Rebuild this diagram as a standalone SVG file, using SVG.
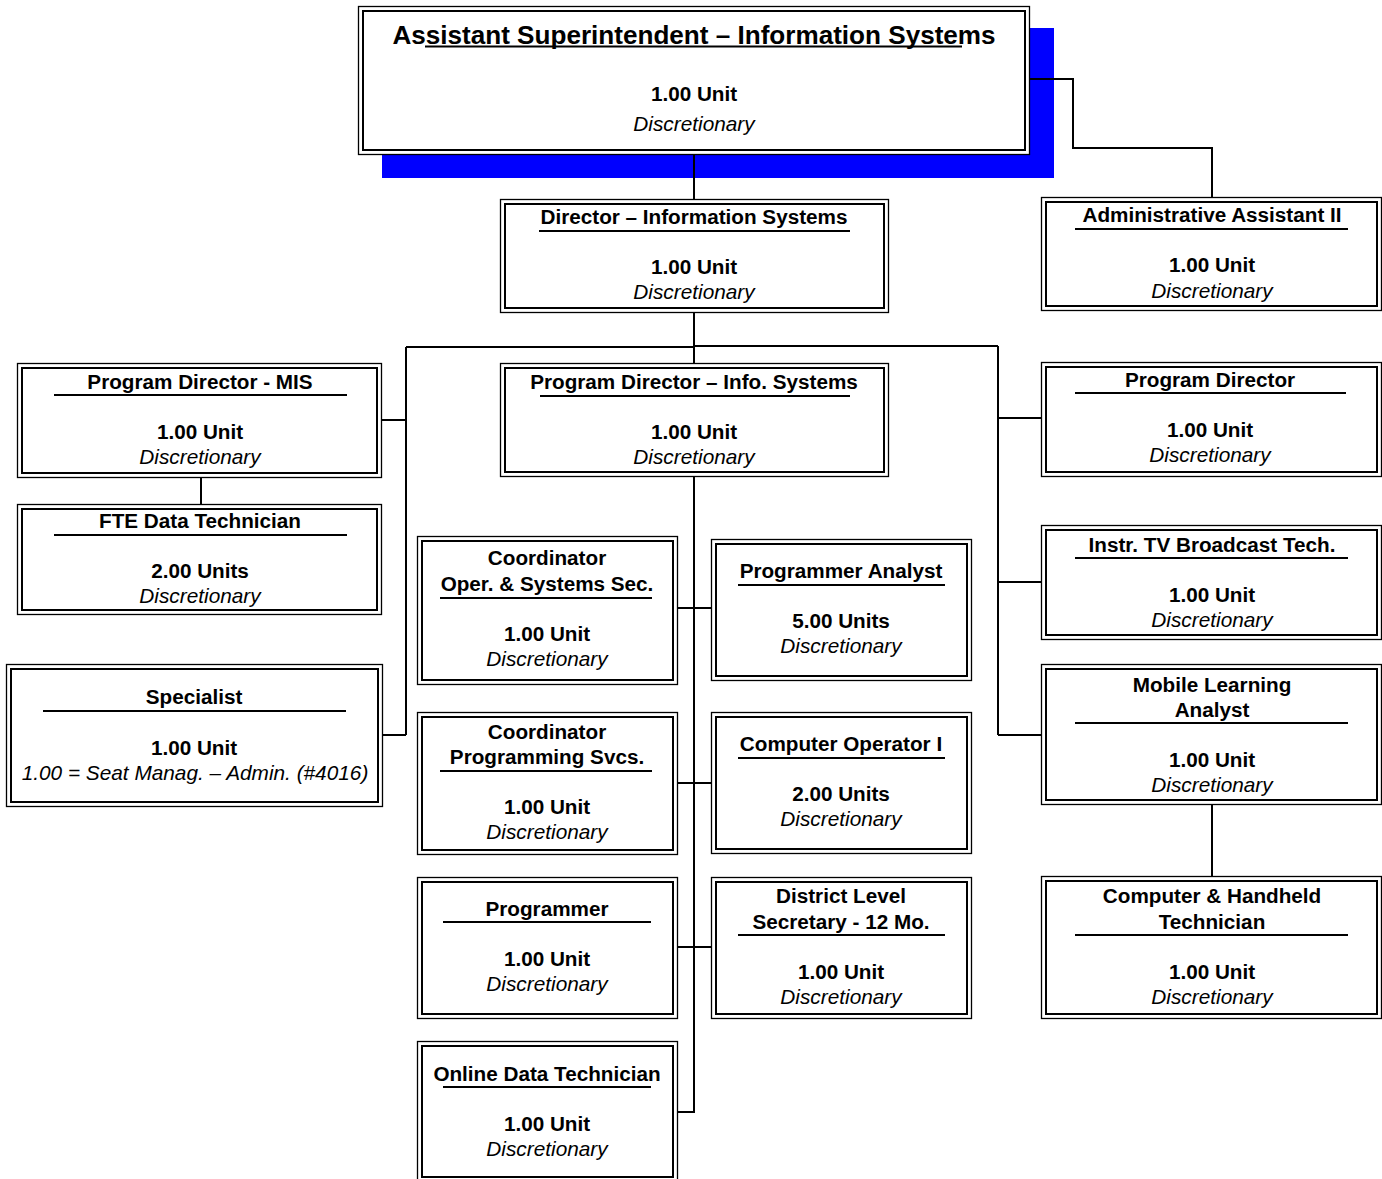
<svg xmlns="http://www.w3.org/2000/svg" width="1382" height="1179" viewBox="0 0 1382 1179">
<style>
.o{fill:#fff;stroke:#000;stroke-width:1.3}
.i{fill:none;stroke:#000;stroke-width:2}
.t{font-family:"Liberation Sans",Arial,sans-serif;font-size:20.7px;font-weight:bold;text-anchor:middle;fill:#000}
.u{font-family:"Liberation Sans",Arial,sans-serif;font-size:20.7px;font-weight:bold;text-anchor:middle;fill:#000}
.d{font-family:"Liberation Sans",Arial,sans-serif;font-size:20.8px;font-style:italic;text-anchor:middle;fill:#000}
.ul{stroke:#000;stroke-width:1.8}
.c{fill:none;stroke:#000;stroke-width:2}
</style>
<rect x="382" y="28" width="672" height="150" fill="#0000FF"/>
<g id="connectors">
<path class="c" d="M694 154V199"/>
<path class="c" d="M1029 79H1073V148H1212V197"/>
<path class="c" d="M694 312V364"/>
<path class="c" d="M406 347H694"/>
<path class="c" d="M694 346H998"/>
<path class="c" d="M406 347V735M382 420H406M382 735H406"/>
<path class="c" d="M201 477V504"/>
<path class="c" d="M998 346V735M998 418H1041M998 582H1041M998 735H1041"/>
<path class="c" d="M694 476V1112H677"/>
<path class="c" d="M677 608H711M677 783H711M677 947H711"/>
<path class="c" d="M1212 804V876"/>
</g>
<g id="n-asst-super">
<rect class="o" x="358.5" y="6.5" width="671" height="148"/>
<rect class="i" x="363" y="11" width="662" height="139"/>
<text class="t" x="694" y="44" style="font-size:26.1px">Assistant Superintendent – Information Systems</text>
<line class="ul" x1="425" y1="46.5" x2="962" y2="46.5"/>
<text class="u" x="694" y="101">1.00 Unit</text>
<text class="d" x="694" y="131">Discretionary</text>
</g>
<g id="n-director">
<rect class="o" x="500.5" y="199.5" width="388" height="113"/>
<rect class="i" x="505" y="204" width="379" height="104"/>
<text class="t" x="694" y="224">Director – Information Systems</text>
<line class="ul" x1="539" y1="231" x2="850" y2="231"/>
<text class="u" x="694" y="274">1.00 Unit</text>
<text class="d" x="694" y="299">Discretionary</text>
</g>
<g id="n-admin-asst">
<rect class="o" x="1041.5" y="197.5" width="340" height="113"/>
<rect class="i" x="1046" y="202" width="331" height="104"/>
<text class="t" x="1212" y="222">Administrative Assistant II</text>
<line class="ul" x1="1075" y1="229" x2="1348" y2="229"/>
<text class="u" x="1212" y="272">1.00 Unit</text>
<text class="d" x="1212" y="298">Discretionary</text>
</g>
<g id="n-pd-mis">
<rect class="o" x="17.5" y="363.5" width="364" height="114"/>
<rect class="i" x="22" y="368" width="355" height="105"/>
<text class="t" x="200" y="389">Program Director - MIS</text>
<line class="ul" x1="54" y1="395" x2="347" y2="395"/>
<text class="u" x="200" y="439">1.00 Unit</text>
<text class="d" x="200" y="464">Discretionary</text>
</g>
<g id="n-fte">
<rect class="o" x="17.5" y="504.5" width="364" height="110"/>
<rect class="i" x="22" y="509" width="355" height="101"/>
<text class="t" x="200" y="528">FTE Data Technician</text>
<line class="ul" x1="54" y1="535" x2="347" y2="535"/>
<text class="u" x="200" y="578">2.00 Units</text>
<text class="d" x="200" y="603">Discretionary</text>
</g>
<g id="n-specialist">
<rect class="o" x="6.5" y="664.5" width="376" height="142"/>
<rect class="i" x="11" y="669" width="367" height="133"/>
<text class="t" x="194" y="704">Specialist</text>
<line class="ul" x1="43" y1="711" x2="346" y2="711"/>
<text class="u" x="194" y="755">1.00 Unit</text>
<text class="d" x="195" y="780">1.00 = Seat Manag. – Admin. (#4016)</text>
</g>
<g id="n-pd-info">
<rect class="o" x="500.5" y="363.5" width="388" height="113"/>
<rect class="i" x="505" y="368" width="379" height="104"/>
<text class="t" x="694" y="389">Program Director – Info. Systems</text>
<line class="ul" x1="540" y1="396" x2="850" y2="396"/>
<text class="u" x="694" y="439">1.00 Unit</text>
<text class="d" x="694" y="464">Discretionary</text>
</g>
<g id="n-coord-oper">
<rect class="o" x="417.5" y="536.5" width="260" height="148"/>
<rect class="i" x="422" y="541" width="251" height="139"/>
<text class="t" x="547" y="565">Coordinator</text>
<text class="t" x="547" y="591">Oper. &amp; Systems Sec.</text>
<line class="ul" x1="440" y1="598" x2="652" y2="598"/>
<text class="u" x="547" y="641">1.00 Unit</text>
<text class="d" x="547" y="666">Discretionary</text>
</g>
<g id="n-prog-analyst">
<rect class="o" x="711.5" y="539.5" width="260" height="141"/>
<rect class="i" x="716" y="544" width="251" height="132"/>
<text class="t" x="841" y="578">Programmer Analyst</text>
<line class="ul" x1="738" y1="585" x2="945" y2="585"/>
<text class="u" x="841" y="628">5.00 Units</text>
<text class="d" x="841" y="653">Discretionary</text>
</g>
<g id="n-coord-prog">
<rect class="o" x="417.5" y="712.5" width="260" height="142"/>
<rect class="i" x="422" y="717" width="251" height="133"/>
<text class="t" x="547" y="739">Coordinator</text>
<text class="t" x="547" y="764">Programming Svcs.</text>
<line class="ul" x1="440" y1="771" x2="652" y2="771"/>
<text class="u" x="547" y="814">1.00 Unit</text>
<text class="d" x="547" y="839">Discretionary</text>
</g>
<g id="n-comp-op">
<rect class="o" x="711.5" y="712.5" width="260" height="141"/>
<rect class="i" x="716" y="717" width="251" height="132"/>
<text class="t" x="841" y="751">Computer Operator I</text>
<line class="ul" x1="738" y1="758" x2="945" y2="758"/>
<text class="u" x="841" y="801">2.00 Units</text>
<text class="d" x="841" y="826">Discretionary</text>
</g>
<g id="n-programmer">
<rect class="o" x="417.5" y="877.5" width="260" height="141"/>
<rect class="i" x="422" y="882" width="251" height="132"/>
<text class="t" x="547" y="916">Programmer</text>
<line class="ul" x1="443" y1="922" x2="651" y2="922"/>
<text class="u" x="547" y="966">1.00 Unit</text>
<text class="d" x="547" y="991">Discretionary</text>
</g>
<g id="n-district-sec">
<rect class="o" x="711.5" y="877.5" width="260" height="141"/>
<rect class="i" x="716" y="882" width="251" height="132"/>
<text class="t" x="841" y="903">District Level</text>
<text class="t" x="841" y="929">Secretary - 12 Mo.</text>
<line class="ul" x1="738" y1="935" x2="945" y2="935"/>
<text class="u" x="841" y="979">1.00 Unit</text>
<text class="d" x="841" y="1004">Discretionary</text>
</g>
<g id="n-online-data">
<rect class="o" x="417.5" y="1041.5" width="260" height="141"/>
<rect class="i" x="422" y="1046" width="251" height="131"/>
<text class="t" x="547" y="1081">Online Data Technician</text>
<line class="ul" x1="443" y1="1087" x2="651" y2="1087"/>
<text class="u" x="547" y="1131">1.00 Unit</text>
<text class="d" x="547" y="1156">Discretionary</text>
</g>
<g id="n-pd-right">
<rect class="o" x="1041.5" y="362.5" width="340" height="114"/>
<rect class="i" x="1046" y="367" width="331" height="105"/>
<text class="t" x="1210" y="387">Program Director</text>
<line class="ul" x1="1075" y1="393" x2="1346" y2="393"/>
<text class="u" x="1210" y="437">1.00 Unit</text>
<text class="d" x="1210" y="462">Discretionary</text>
</g>
<g id="n-instr-tv">
<rect class="o" x="1041.5" y="525.5" width="340" height="114"/>
<rect class="i" x="1046" y="530" width="331" height="105"/>
<text class="t" x="1212" y="552">Instr. TV Broadcast Tech.</text>
<line class="ul" x1="1075" y1="558" x2="1348" y2="558"/>
<text class="u" x="1212" y="602">1.00 Unit</text>
<text class="d" x="1212" y="627">Discretionary</text>
</g>
<g id="n-mobile">
<rect class="o" x="1041.5" y="664.5" width="340" height="140"/>
<rect class="i" x="1046" y="669" width="331" height="131"/>
<text class="t" x="1212" y="692">Mobile Learning</text>
<text class="t" x="1212" y="717">Analyst</text>
<line class="ul" x1="1075" y1="723" x2="1348" y2="723"/>
<text class="u" x="1212" y="767">1.00 Unit</text>
<text class="d" x="1212" y="792">Discretionary</text>
</g>
<g id="n-handheld">
<rect class="o" x="1041.5" y="876.5" width="340" height="142"/>
<rect class="i" x="1046" y="881" width="331" height="133"/>
<text class="t" x="1212" y="903">Computer &amp; Handheld</text>
<text class="t" x="1212" y="929">Technician</text>
<line class="ul" x1="1075" y1="935" x2="1348" y2="935"/>
<text class="u" x="1212" y="979">1.00 Unit</text>
<text class="d" x="1212" y="1004">Discretionary</text>
</g>
</svg>
